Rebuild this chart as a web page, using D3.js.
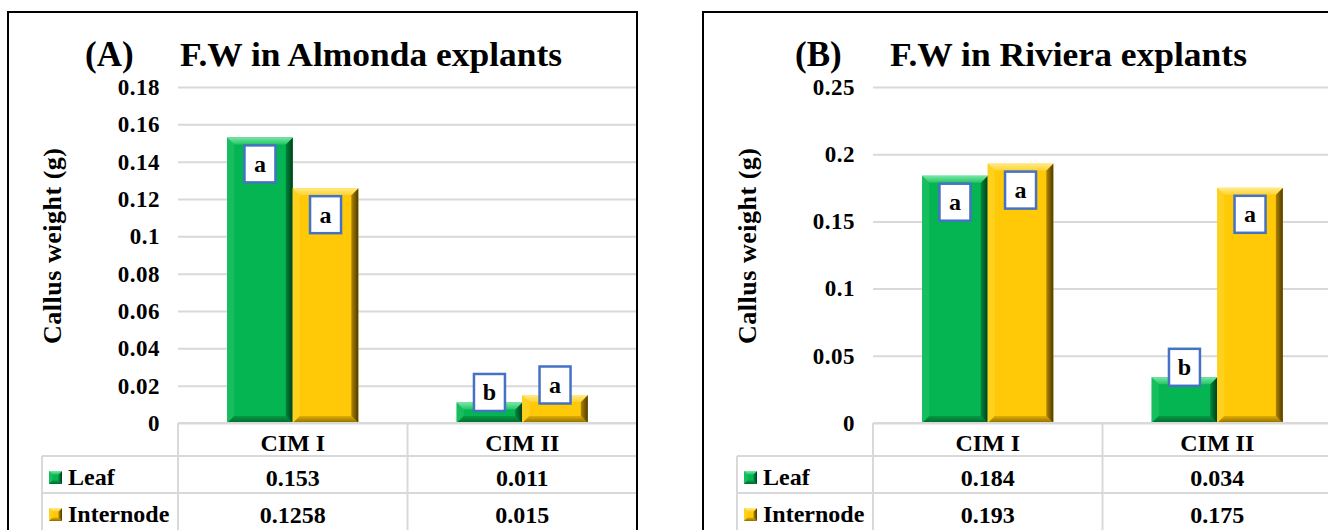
<!DOCTYPE html>
<html>
<head>
<meta charset="utf-8">
<script src="https://cdn.jsdelivr.net/npm/d3@7"></script>
<style>
  body { margin: 0; background: #fff; }
  svg { display: block; }
</style>
</head>
<body>
<div id="chart"></div>
<script>
const categories = ["CIM I", "CIM II"];
const series = ["Leaf", "Internode"];

const almondaLeaf = [0.153, 0.011];
const almondaInternode = [0.1258, 0.015];
const almondaLeafLetters = ["a", "b"];
const almondaInternodeLetters = ["a", "a"];
const almondaTicks = [0, 0.02, 0.04, 0.06, 0.08, 0.1, 0.12, 0.14, 0.16, 0.18];

const rivieraLeaf = [0.184, 0.034];
const rivieraInternode = [0.193, 0.175];
const rivieraLeafLetters = ["a", "b"];
const rivieraInternodeLetters = ["a", "a"];
const rivieraTicks = [0, 0.05, 0.1, 0.15, 0.2, 0.25];

const FONT = "'Liberation Serif', 'Times New Roman', serif";
const W = 1328, H = 530;
const svg = d3.select("#chart").append("svg").attr("width", W).attr("height", H)
  .attr("font-family", FONT).attr("font-weight", "bold");
const defs = svg.append("defs");

// bevel palettes (excel-like 3d bars)
const palette = {
  Leaf: { base: "#05B552", top: ["#7BE6A6", "#22C666"], left: "#17BE5E", right: ["#00863B", "#003F1B"], bottom: ["#049A44", "#006A2C"] },
  Internode: { base: "#FFC908", top: ["#FFEB8A", "#FFD22E"], left: "#FFD11F", right: ["#B08400", "#4F3A00"], bottom: ["#E0AE00", "#8E6C00"] },
};

function linGrad(id, c1, c2, horizontal) {
  const lg = defs.append("linearGradient").attr("id", id)
    .attr("x1", 0).attr("y1", 0).attr("x2", horizontal ? 1 : 0).attr("y2", horizontal ? 0 : 1);
  lg.append("stop").attr("offset", "0%").attr("stop-color", c1);
  lg.append("stop").attr("offset", "100%").attr("stop-color", c2);
}
series.forEach((s) => {
  const p = palette[s];
  linGrad(`top-${s}`, p.top[0], p.top[1], false);
  linGrad(`right-${s}`, p.right[0], p.right[1], true);
  linGrad(`bottom-${s}`, p.bottom[0], p.bottom[1], false);
});

function bevelRect(g, x, y, w, h, s, bv) {
  const p = palette[s];
  const b = Math.min(bv, h / 2.5, w / 2.5);
  const pts = (arr) => arr.map((d) => d.join(",")).join(" ");
  g.append("rect").attr("x", x).attr("y", y).attr("width", w).attr("height", h).attr("fill", p.base);
  g.append("polygon").attr("points", pts([[x, y], [x + b, y + b], [x + b, y + h - b], [x, y + h]])).attr("fill", p.left);
  g.append("polygon").attr("points", pts([[x, y + h], [x + b, y + h - b], [x + w - b, y + h - b], [x + w, y + h]])).attr("fill", `url(#bottom-${s})`);
  g.append("polygon").attr("points", pts([[x + w, y], [x + w, y + h], [x + w - b, y + h - b], [x + w - b, y + b]])).attr("fill", `url(#right-${s})`);
  g.append("polygon").attr("points", pts([[x, y], [x + w, y], [x + w - b, y + b], [x + b, y + b]])).attr("fill", `url(#top-${s})`);
}

function drawPanel(ox, tag, tagX, title, titleX, titleLen, leaf, internode, leafLetters, internodeLetters, ticks) {
  const g = svg.append("g").attr("transform", `translate(${ox},0)`);
  const plot = { l: 178, r: 637, t: 87, b: 423 };
  const rows = { cat: 456, leaf: 493, bottom: 530, legendX: 42 };

  const y = d3.scaleLinear().domain([0, d3.max(ticks)]).range([plot.b, plot.t]);
  const x = d3.scaleBand().domain(categories).range([plot.l, plot.r]);
  const xs = d3.scaleBand().domain(series).range([0, x.bandwidth()]).paddingOuter(0.75);

  // frame
  g.append("rect").attr("x", 8).attr("y", 12).attr("width", 629).attr("height", 540)
    .attr("fill", "none").attr("stroke", "#000").attr("stroke-width", 2);

  // titles
  g.append("text").attr("x", tagX).attr("y", 66).attr("font-size", 35).text(tag);
  g.append("text").attr("x", titleX).attr("y", 66).attr("font-size", 34)
    .attr("textLength", titleLen).attr("lengthAdjust", "spacingAndGlyphs").text(title);

  // grid
  const grid = g.append("g").attr("transform", `translate(${plot.l},0)`)
    .call(d3.axisLeft(y).tickValues(ticks).tickSize(-(plot.r - plot.l - 1)).tickFormat(""));
  grid.select(".domain").remove();
  grid.selectAll("line").attr("stroke", "#D9D9D9").attr("stroke-width", 2);

  // y tick labels
  const yAxis = g.append("g").attr("transform", `translate(${plot.l},0)`)
    .call(d3.axisLeft(y).tickValues(ticks).tickSize(0).tickPadding(18).tickFormat((d) => String(d)));
  yAxis.attr("font-family", FONT);
  yAxis.select(".domain").remove();
  yAxis.selectAll("text").attr("font-size", 23).attr("font-weight", "bold").attr("fill", "#000").attr("letter-spacing", 0.5);

  // y title
  g.append("text")
    .attr("transform", `translate(61,246) rotate(-90)`)
    .attr("text-anchor", "middle").attr("font-size", 26)
    .attr("textLength", 196).attr("lengthAdjust", "spacing")
    .text("Callus weight (g)");

  // bars
  const barData = categories.flatMap((c, i) => [
    { cat: c, s: "Leaf", v: leaf[i], letter: leafLetters[i] },
    { cat: c, s: "Internode", v: internode[i], letter: internodeLetters[i] },
  ]);
  const bars = g.append("g").attr("class", "bars");
  barData.forEach((d) => {
    const bx = x(d.cat) + xs(d.s);
    const by = y(d.v);
    bevelRect(bars, bx, by, xs.bandwidth(), y(0) - by, d.s, 7);
  });

  // letter boxes
  const bw = 31, bh = 37;
  const labels = g.append("g").attr("class", "labels");
  barData.forEach((d) => {
    const cx = x(d.cat) + xs(d.s) + xs.bandwidth() / 2;
    let top = y(d.v) + 8;
    if (top + bh > plot.b - 4) top = y(d.v) - 10 - bh / 2;
    labels.append("rect").attr("x", cx - bw / 2).attr("y", top).attr("width", bw).attr("height", bh)
      .attr("fill", "#fff").attr("stroke", "#4472C4").attr("stroke-width", 2.5);
    labels.append("text").attr("x", cx).attr("y", top + bh / 2 + 8).attr("text-anchor", "middle")
      .attr("font-size", 24).text(d.letter);
  });

  // data table
  const tbl = g.append("g").attr("stroke", "#D9D9D9").attr("stroke-width", 2);
  tbl.append("line").attr("x1", plot.l).attr("x2", plot.r - 1).attr("y1", plot.b).attr("y2", plot.b);
  [rows.cat, rows.leaf].forEach((ry) =>
    tbl.append("line").attr("x1", rows.legendX).attr("x2", plot.r - 1).attr("y1", ry).attr("y2", ry));
  categories.forEach((c) =>
    tbl.append("line").attr("x1", x(c)).attr("x2", x(c)).attr("y1", plot.b).attr("y2", rows.bottom));
  tbl.append("line").attr("x1", rows.legendX).attr("x2", rows.legendX).attr("y1", rows.cat).attr("y2", rows.bottom);

  g.selectAll(".cat").data(categories).join("text").attr("class", "cat")
    .attr("x", (c) => x(c) + x.bandwidth() / 2).attr("y", 451).attr("text-anchor", "middle")
    .attr("font-size", 24).text((c) => c);

  const rowTops = { Leaf: rows.cat, Internode: rows.leaf };
  const vals = { Leaf: leaf, Internode: internode };
  series.forEach((s) => {
    const rt = rowTops[s];
    const mk = g.append("g");
    bevelRect(mk, 49, rt + 15, 13, 13, s, 3.5);
    g.append("text").attr("x", 68).attr("y", rt + 29).attr("font-size", 24).text(s);
    categories.forEach((c, i) => {
      g.append("text").attr("x", x(c) + x.bandwidth() / 2).attr("y", rt + 30)
        .attr("text-anchor", "middle").attr("font-size", 24).text(String(vals[s][i]));
    });
  });
}

drawPanel(0, "(A)", 85, "F.W in Almonda  explants", 180, 382,
  almondaLeaf, almondaInternode, almondaLeafLetters, almondaInternodeLetters, almondaTicks);
drawPanel(695, "(B)", 100, "F.W in Riviera explants", 195, 357,
  rivieraLeaf, rivieraInternode, rivieraLeafLetters, rivieraInternodeLetters, rivieraTicks);
</script>
</body>
</html>
